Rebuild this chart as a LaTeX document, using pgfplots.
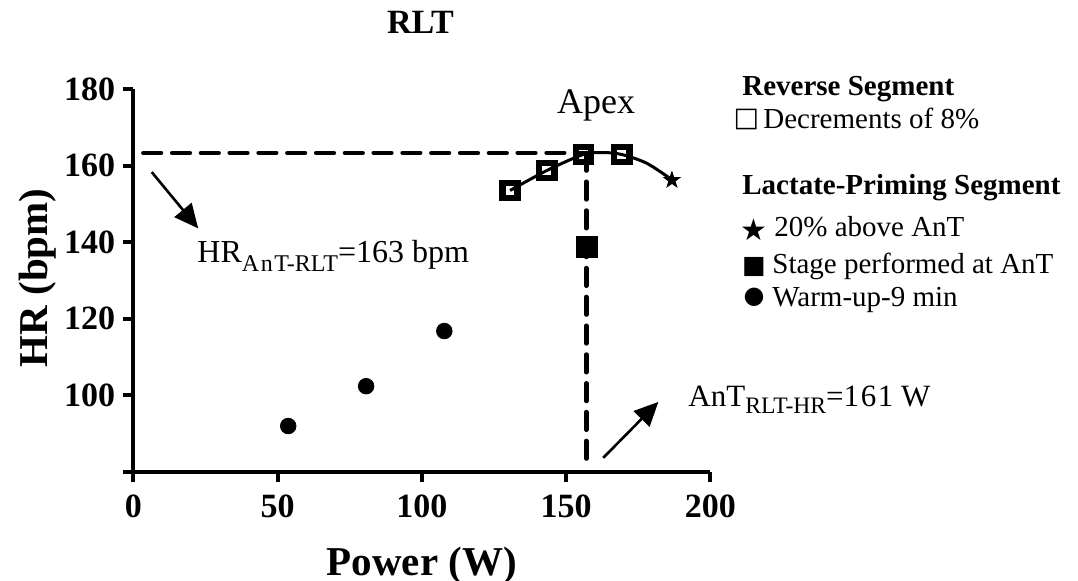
\documentclass[border=0pt]{standalone}
\usepackage{fontspec}
\setmainfont{Liberation Serif}
\newfontfamily\symfont{DejaVu Sans}
\usepackage{pgfplots}
\pgfplotsset{compat=1.18}
\usetikzlibrary{arrows.meta}

% filled five-pointed star mark
\pgfdeclareplotmark{fstar}{%
  \pgfpathmoveto{\pgfpointpolar{90}{\pgfplotmarksize}}%
  \pgfpathlineto{\pgfpointpolar{126}{0.4\pgfplotmarksize}}%
  \pgfpathlineto{\pgfpointpolar{162}{\pgfplotmarksize}}%
  \pgfpathlineto{\pgfpointpolar{198}{0.4\pgfplotmarksize}}%
  \pgfpathlineto{\pgfpointpolar{234}{\pgfplotmarksize}}%
  \pgfpathlineto{\pgfpointpolar{270}{0.4\pgfplotmarksize}}%
  \pgfpathlineto{\pgfpointpolar{306}{\pgfplotmarksize}}%
  \pgfpathlineto{\pgfpointpolar{342}{0.4\pgfplotmarksize}}%
  \pgfpathlineto{\pgfpointpolar{18}{\pgfplotmarksize}}%
  \pgfpathlineto{\pgfpointpolar{54}{0.4\pgfplotmarksize}}%
  \pgfpathclose
  \pgfusepathqfill
}

\begin{document}
\begin{tikzpicture}
\begin{axis}[
  scale only axis,
  width=288.5pt, height=191.5pt,
  xmin=0, xmax=200, ymin=80, ymax=180,
  axis lines=left,
  axis line style={-, line width=2pt, black},
  xtick={0,50,...,200},
  ytick={100,120,...,180},
  tick align=outside,
  major tick length=5pt,
  tick style={line width=2pt, black},
  /pgf/number format/assume math mode=true,
  ticklabel style={font=\fontsize{17}{17}\selectfont\bfseries},
  xticklabel style={yshift=-3pt},
  yticklabel style={xshift=-0.5pt},
  xlabel={Power (W)},
  ylabel={HR (bpm)},
  label style={font=\fontsize{20.5}{20.5}\selectfont\bfseries},
  xlabel style={at={(axis description cs:0.5,-0.269)}, anchor=base},
  ylabel style={at={(axis description cs:-0.148,0.507)}, anchor=base},
  clip=false,
]
% dashed guide lines
\addplot[black, line width=2.3pt, line cap=round, dash pattern=on 8.8pt off 5.6pt]
  coordinates {(3.5,163.3) (157,163.3)};
\addplot[black, line width=2.3pt, line cap=round, dash pattern=on 8.8pt off 5.6pt]
  coordinates {(157,163.3) (157,81)};
% fitted curve through reverse segment
\addplot[black, line width=1.5pt, smooth] coordinates {
  (130.6,153.5) (143.3,158.7) (156,162.9) (163,163.4) (169.3,162.9) (178,160.6) (186.7,156.3)};
% reverse segment
\addplot[only marks, mark=square, mark size=3.8pt, mark options={line width=3.2pt, black}]
  coordinates {(130.6,153.5) (143.3,158.7) (156,162.9) (169.3,162.9)};
% 20% above AnT
\addplot[only marks, mark=fstar, mark size=4.8pt, black] coordinates {(186.7,156.2)};
% stage at AnT
\addplot[only marks, mark=square*, mark size=5.1pt, mark options={line width=0.5pt, black, fill=black}]
  coordinates {(157.2,138.7)};
% warm-up
\addplot[only marks, mark=*, mark size=3.9pt, mark options={black, fill=black}]
  coordinates {(53.7,92) (80.7,102.4) (107.8,116.8)};

% x axis runs a little past the y axis
\draw[line width=2pt] (axis cs:-3.6,80) -- (axis cs:0,80);

% annotations
\draw[line width=1.3pt, -{Triangle[length=12pt,width=11pt]}] (axis cs:6.4,158.3) -- (axis cs:22.5,143.6);
\draw[line width=1.3pt, -{Triangle[length=12pt,width=11pt]}] (axis cs:162.9,83.7) -- (axis cs:182,98.3);
\node[anchor=base, inner sep=0, font=\fontsize{18}{18}\selectfont] at (axis cs:160.4,173.5) {Apex};
\node[anchor=base west, inner sep=0, font=\fontsize{16}{16}\selectfont] at (axis cs:22.1,134.8)
  {HR\raisebox{-4.5pt}{\fontsize{12}{12}\selectfont A\kern0.8pt n\kern0.8pt T-RLT}=163 bpm};
\node[anchor=base west, inner sep=0, font=\fontsize{15.5}{15.5}\selectfont] at (axis cs:192.3,97)
  {AnT\raisebox{-3.5pt}{\fontsize{11.8}{11.8}\selectfont RLT-HR}=1\kern0.8pt6\kern0.8pt1 W};
\end{axis}

% title and legend block, placed in image pixel units
\begin{scope}[x=0.5pt, y=-0.5pt, shift={(-66.65pt,236pt)}]
\node[anchor=base, inner sep=0, font=\fontsize{17}{17}\selectfont\bfseries] at (420.5,33.3) {RLT};
\begin{scope}[every node/.style={inner sep=0, font=\fontsize{14.5}{14.5}\selectfont}]
\node[anchor=base west] at (742,96) {\bfseries Reverse Segment};
\node at (746.5,119.5) {\symfont\fontsize{13.5}{13.5}\selectfont □};
\node[anchor=base west] at (763,128.3) {Decrements of 8\%};
\node[anchor=base west] at (742,195) {\bfseries Lactate-Priming Segment};
\node at (754,230) {\symfont\fontsize{15}{15}\selectfont ★};
\node[anchor=base west] at (774,236.7) {20\% above AnT};
\node at (754,267.5) {\symfont\fontsize{12.5}{12.5}\selectfont ■};
\node[anchor=base west] at (772,273.3) {Stage performed at AnT};
\node at (754,297) {\symfont\fontsize{12}{12}\selectfont ●};
\node[anchor=base west] at (772,306.7) {Warm-up-9 min};
\end{scope}
\pgfresetboundingbox
\path (0,0) rectangle (1078,581);
\end{scope}
\end{tikzpicture}
\end{document}
